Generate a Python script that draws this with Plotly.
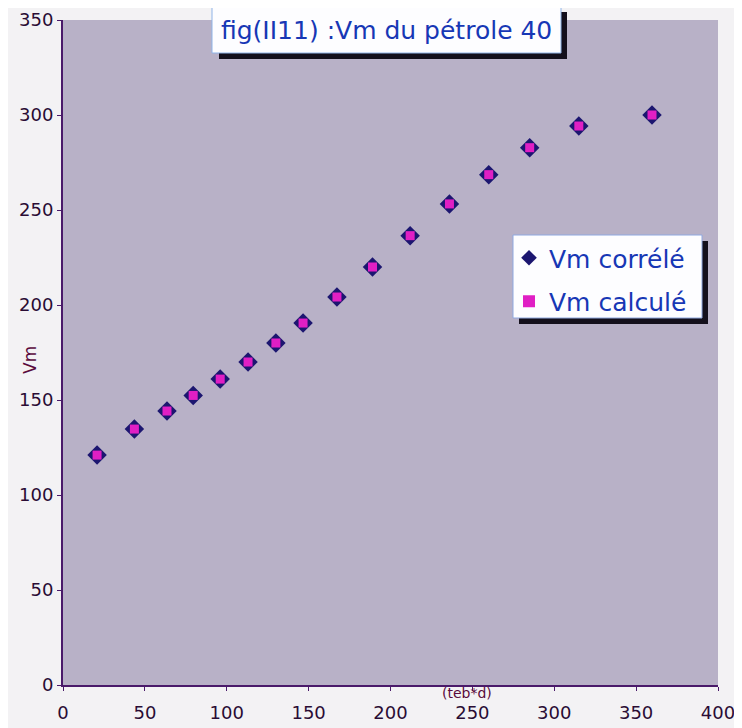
import plotly.graph_objects as go

teb_d = [20.8, 43.6, 63.5, 79.5, 96, 113, 130, 146.6, 167.3, 189, 212, 236, 260, 285, 315, 359.7]
vm_correle = [121, 134.7, 144.2, 152.4, 161, 170, 180, 190.5, 204.2, 220, 236.5, 253.2, 268.6, 282.8, 294.2, 300]
vm_calcule = [121, 134.7, 144.2, 152.4, 161, 170, 180, 190.5, 204.2, 220, 236.5, 253.2, 268.6, 282.8, 294.2, 300]

title_text = "fig(II11) :Vm du pétrole 40"
x_title = "(teb*d)"
y_title = "Vm"

OFF = 8  # page body margin
W, H = 742 - OFF, 728 - OFF
# plot area in screen pixels: x 63..718, y 20..685
L, T = 63 - OFF, 20 - OFF
R = W - (718 - OFF)
B = H - (685 - OFF)
pw, ph = W - L - R, H - T - B
FONT = "DejaVu Sans, Liberation Sans, Arial"

def px(x):
    return (x - OFF - L) / pw

def py(y):
    return (H - B - (y - OFF)) / ph

fig = go.Figure()
fig.add_trace(go.Scatter(
    x=teb_d, y=vm_correle, mode="markers", name="Vm corrélé", legendgroup="a",
    marker=dict(symbol="diamond", size=15, color="#1c1670", line=dict(width=0)),
))
fig.add_trace(go.Scatter(
    x=teb_d, y=vm_calcule, mode="markers", name="Vm calculé", legendgroup="b",
    marker=dict(symbol="square", size=9, color="#e01fc4", line=dict(width=0)),
))

shadow = "#14101c"
shapes = [
    # title shadow + box
    dict(type="rect", xref="paper", yref="paper", layer="above",
         x0=px(219), x1=px(567), y0=py(59), y1=py(12),
         fillcolor=shadow, line=dict(width=0)),
    dict(type="rect", xref="paper", yref="paper", layer="above",
         x0=px(212), x1=px(561), y0=py(53), y1=py(6),
         fillcolor="#fdfdff", line=dict(width=1, color="#8fb4e8")),
    # legend shadow + box
    dict(type="rect", xref="paper", yref="paper", layer="above",
         x0=px(519), x1=px(708), y0=py(324), y1=py(241),
         fillcolor=shadow, line=dict(width=0)),
    dict(type="rect", xref="paper", yref="paper", layer="above",
         x0=px(513), x1=px(702), y0=py(318), y1=py(235),
         fillcolor="#fdfdff", line=dict(width=1, color="#8fa8e0")),
]

fig.update_layout(
    width=W, height=H,
    margin=dict(l=L, r=R, t=T, b=B),
    paper_bgcolor="#f3f2f4",
    plot_bgcolor="#b8b1c7",
    font=dict(family=FONT, color="#2a0c34"),
    showlegend=True,
    legend=dict(
        x=px(509), y=py(235), xanchor="left", yanchor="top",
        bgcolor="rgba(0,0,0,0)", borderwidth=0,
        font=dict(size=25, color="#1737b5", family=FONT),
        itemsizing="constant", traceorder="grouped", tracegroupgap=8,
    ),
    shapes=shapes,
    annotations=[
        dict(text=title_text, xref="paper", yref="paper",
             x=px(386), y=py(30), xanchor="center", yanchor="middle",
             showarrow=False, font=dict(size=25, color="#1737b5", family=FONT)),
        dict(text=x_title, xref="x", yref="paper", x=247, y=py(693),
             xanchor="center", yanchor="middle", showarrow=False,
             font=dict(size=14, color="#5a0a3c", family=FONT)),
        dict(text=y_title, xref="paper", yref="paper", x=px(30), y=py(360),
             xanchor="center", yanchor="middle", showarrow=False, textangle=-90,
             font=dict(size=17, color="#5a0a3c", family=FONT)),
    ],
    xaxis=dict(
        range=[0, 400], dtick=50, showgrid=False, zeroline=False, automargin=False,
        showline=True, linecolor="#4a1a6a", linewidth=2,
        ticks="outside", ticklen=4, tickcolor="#4a1a6a",
        tickfont=dict(size=18, color="#2a0c34"), ticklabelstandoff=6,
    ),
    yaxis=dict(
        range=[0, 350], dtick=50, showgrid=False, zeroline=False, automargin=False,
        showline=True, linecolor="#4a1a6a", linewidth=2,
        ticks="outside", ticklen=4, tickcolor="#4a1a6a",
        tickfont=dict(size=18, color="#2a0c34"),
    ),
)

fig.write_html("out.html")
